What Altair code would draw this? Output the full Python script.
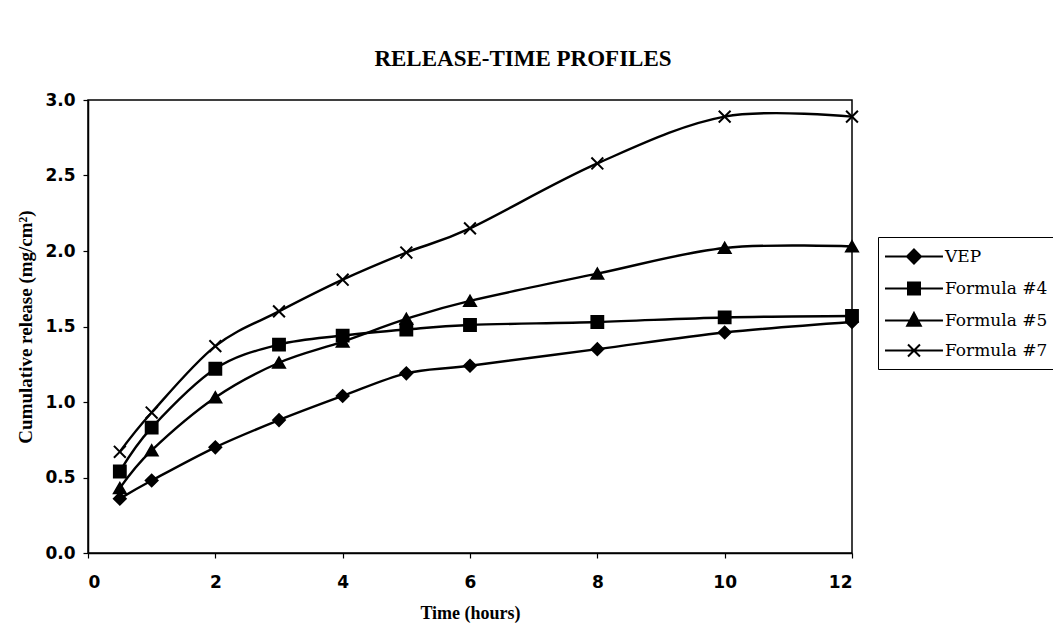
import altair as alt
import pandas as pd

# ---- data ----
times = [0.5, 1, 2, 3, 4, 5, 6, 8, 10, 12]
series_names = ["VEP", "Formula #4", "Formula #5", "Formula #7"]
marker_names = ["diamond marker", "square marker", "triangle marker", "cross marker"]
vep = [0.36, 0.48, 0.70, 0.88, 1.04, 1.19, 1.24, 1.35, 1.46, 1.53]
formula4 = [0.54, 0.83, 1.22, 1.38, 1.44, 1.48, 1.51, 1.53, 1.56, 1.57]
formula5 = [0.43, 0.68, 1.03, 1.26, 1.40, 1.55, 1.67, 1.85, 2.02, 2.03]
formula7 = [0.67, 0.93, 1.37, 1.60, 1.81, 1.99, 2.15, 2.58, 2.89, 2.89]
x_ticks = [0, 2, 4, 6, 8, 10, 12]
y_ticks = [0.0, 0.5, 1.0, 1.5, 2.0, 2.5, 3.0]

rows = []
for name, mk, vals in zip(series_names, marker_names, [vep, formula4, formula5, formula7]):
    for t, v in zip(times, vals):
        rows.append({"time": t, "release": v, "series": name, "marker": mk})
df = pd.DataFrame(rows)

# ---- marker shapes ----
X_PATH = "M-1,-1L1,1M1,-1L-1,1"
plot_shapes = ["diamond", "square", "triangle-up", X_PATH]

LINE = "M-1.19,0H4.33"
legend_paths = [
    LINE + "M1.57,-0.67L2.24,0L1.57,0.67L0.9,0Z",
    LINE + "M1.0,-0.57H2.14V0.57H1.0Z",
    LINE + "M1.57,-0.72L2.22,0.5H0.92Z",
    LINE + "M1.0,-0.57L2.14,0.57M2.14,-0.57L1.0,0.57",
]
shape_signal = ""
for name, p in zip(series_names[:-1], legend_paths[:-1]):
    shape_signal += "datum.value === '%s' ? '%s' : " % (name, p)
shape_signal += "'%s'" % legend_paths[-1]

x_scale = alt.Scale(domain=[0, 12], nice=False)
y_scale = alt.Scale(domain=[0, 3], nice=False)
color = alt.Color(
    "series:N",
    scale=alt.Scale(domain=series_names, range=["black"] * 4),
    legend=alt.Legend(
        title=None,
        orient="none",
        legendX=790,
        legendY=137,
        symbolType=alt.ExprRef(expr=shape_signal),
        symbolFillColor="black",
        symbolStrokeColor="black",
        symbolOpacity=1,
        symbolStrokeWidth=2,
    ),
)

axis_common = dict(
    labelFont="DejaVu Sans",
    labelFontWeight="bold",
    labelFontSize=17,
    labelColor="black",
    titleFont="Liberation Serif",
    titleFontWeight="bold",
    titleColor="black",
    domainColor="black",
    domainWidth=1.5,
    tickColor="black",
    tickWidth=1.2,
    tickSize=5,
    grid=False,
)

x_enc = alt.X(
    "time:Q",
    scale=x_scale,
    axis=alt.Axis(values=x_ticks, format="d", title="Time (hours)", titleFontSize=18,
                  labelPadding=16, titlePadding=14, **axis_common),
)
y_enc = alt.Y(
    "release:Q",
    scale=y_scale,
    axis=alt.Axis(values=y_ticks, format=".1f", title="Cumulative release (mg/cm²)",
                  titleFontSize=19, labelPadding=8, titlePadding=9, **axis_common),
)

lines = alt.Chart(df).mark_line(interpolate="cardinal", strokeWidth=2.4).encode(
    x=x_enc, y=y_enc, color=color, detail="series:N"
)
points = alt.Chart(df).mark_point(
    filled=True, size=140, opacity=1, strokeWidth=2, color="black", stroke="black"
).encode(
    x=x_enc,
    y=y_enc,
    shape=alt.Shape("marker:N", scale=alt.Scale(domain=marker_names, range=plot_shapes), legend=None),
)

chart = (
    alt.layer(lines, points)
    .properties(
        width=764,
        height=453,
        autosize=alt.AutoSizeParams(type="none"),
        padding={"left": 88, "top": 100, "right": 201, "bottom": 84},
        title=alt.TitleParams(
            "RELEASE-TIME PROFILES",
            font="Liberation Serif",
            fontSize=23,
            fontWeight="bold",
            color="black",
            anchor="middle",
            frame="group",
            dx=53,
            offset=20,
        ),
        background="white",
    )
    .configure_view(stroke="black", strokeWidth=1.5)
    .configure_legend(
        padding=8,
        strokeColor="black",
        fillColor="white",
        labelFont="DejaVu Serif",
        labelFontSize=17,
        labelColor="black",
        labelOffset=36,
        symbolSize=441,
        symbolStrokeWidth=2,
        rowPadding=9,
        labelLimit=300,
    )
)

chart.save("out.html", embed_options={"renderer": "svg", "actions": False})
